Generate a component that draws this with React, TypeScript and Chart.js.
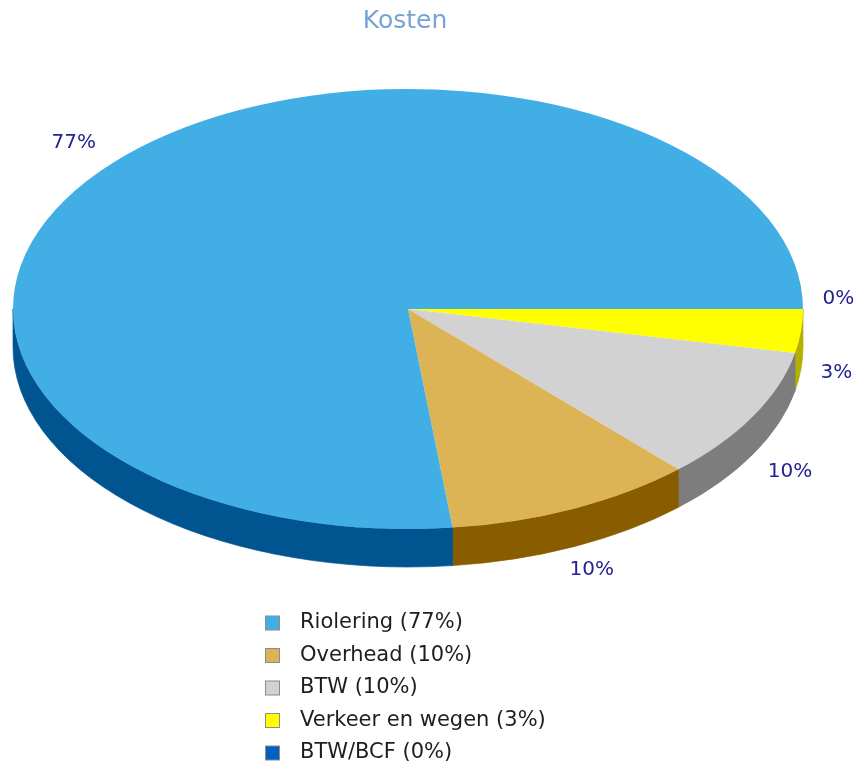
import React, { useEffect, useRef } from "react";
import { Chart, registerables } from "chart.js";

Chart.register(...registerables);

const TITLE = "Kosten";
const categories = ["Riolering", "Overhead", "BTW", "Verkeer en wegen", "BTW/BCF"];
const values = [76.8, 10.2, 9.8, 3.2, 0];
const topColors = ["#41aee6", "#dcb455", "#d2d2d2", "#ffff00", "#0060bf"];
const sideColors = ["#005591", "#8a5c00", "#7d7d7d", "#b4b000", "#003a75"];

// geometry
const W = 855;
const H = 765;
const CX = 408;
const CY = 309;
const RY = 220;
const RX = 395;
const SX = RX / RY;
const DEPTH = 38;
const FONT = "'DejaVu Sans', Verdana, sans-serif";

const total = values.reduce((a, b) => a + b, 0);
const pct = (v: number) => Math.round((v / total) * 100) + "%";

// chart draws clockwise from east; source runs counter-clockwise, so reverse
const chartLabels = [...categories].reverse();
const chartValues = [...values].reverse();
const chartTop = [...topColors].reverse();
const chartSide = [...sideColors].reverse();

const pie3d = {
  id: "pie3d",
  beforeDatasetsDraw(chart: any) {
    const ctx = chart.ctx as CanvasRenderingContext2D;
    const meta = chart.getDatasetMeta(0);
    ctx.save();
    meta.data.forEach((arc: any, i: number) => {
      const p = arc.getProps(["x", "y", "startAngle", "endAngle", "outerRadius"], true);
      const rx = p.outerRadius * SX;
      const ry = p.outerRadius;
      for (const base of [0, 2 * Math.PI]) {
        const s = Math.max(p.startAngle, base);
        const e = Math.min(p.endAngle, base + Math.PI);
        if (e <= s) continue;
        ctx.beginPath();
        ctx.ellipse(p.x, p.y, rx, ry, 0, s, e, false);
        ctx.lineTo(p.x + rx * Math.cos(e), p.y + ry * Math.sin(e) + DEPTH);
        ctx.ellipse(p.x, p.y + DEPTH, rx, ry, 0, e, s, true);
        ctx.closePath();
        ctx.fillStyle = chartSide[i];
        ctx.strokeStyle = chartSide[i];
        ctx.lineWidth = 0.7;
        ctx.fill();
        ctx.stroke();
      }
    });
    ctx.restore();
    ctx.save();
    ctx.translate(CX, 0);
    ctx.scale(SX, 1);
    ctx.translate(-CX, 0);
  },
  afterDatasetsDraw(chart: any) {
    chart.ctx.restore();
  },
  afterDraw(chart: any) {
    const ctx = chart.ctx as CanvasRenderingContext2D;
    const meta = chart.getDatasetMeta(0);
    ctx.save();
    // title
    ctx.font = `25px ${FONT}`;
    ctx.fillStyle = "#78a4d4";
    ctx.textAlign = "center";
    ctx.textBaseline = "middle";
    ctx.fillText(TITLE, CX - 3, 21);

    // slice labels
    ctx.font = `20px ${FONT}`;
    ctx.fillStyle = "#23238f";
    meta.data.forEach((arc: any, i: number) => {
      const p = arc.getProps(["x", "y", "startAngle", "endAngle", "outerRadius"], true);
      const mid = (p.startAngle + p.endAngle) / 2;
      const c = Math.cos(mid);
      const s = Math.sin(mid);
      const txt = pct(chartValues[i]);
      const w = ctx.measureText(txt).width;
      const x = p.x + (p.outerRadius * SX + 18) * c + (c < 0 ? -w / 2 - 4 : c * w * 0.55);
      const y = p.y + 235 * s + (s > 0 ? DEPTH * Math.min(1, s * 8) : 0);
      ctx.textAlign = "center";
      ctx.textBaseline = s > 0 ? "top" : "bottom";
      ctx.fillText(txt, x, y);
    });

    // legend
    ctx.font = `21px ${FONT}`;
    ctx.textAlign = "left";
    ctx.textBaseline = "middle";
    categories.forEach((cat, i) => {
      const rowY = 623 + i * 32.5;
      ctx.fillStyle = topColors[i];
      ctx.fillRect(265.5, rowY - 7, 14, 14);
      ctx.strokeStyle = "#8c8c8c";
      ctx.lineWidth = 1;
      ctx.strokeRect(265.5, rowY - 7, 14, 14);
      ctx.fillStyle = "#1e1e1e";
      ctx.fillText(`${cat} (${pct(values[i])})`, 300, rowY);
    });
    ctx.restore();
  },
};

export default function App() {
  const ref = useRef<HTMLCanvasElement | null>(null);
  useEffect(() => {
    if (!ref.current) return;
    const chart = new Chart(ref.current, {
      type: "pie",
      data: {
        labels: chartLabels,
        datasets: [
          {
            data: chartValues,
            backgroundColor: chartTop,
            borderWidth: 0,
            clip: false,
          } as any,
        ],
      },
      options: {
        responsive: false,
        animation: false,
        events: [],
        rotation: 90,
        layout: {
          padding: {
            left: CX - RY,
            right: W - (CX + RY),
            top: CY - 249,
            bottom: H - (CY + 249),
          },
        },
        plugins: {
          legend: { display: false },
          title: { display: false },
          tooltip: { enabled: false },
        },
      },
      plugins: [pie3d],
    });
    return () => chart.destroy();
  }, []);
  return (
    <div style={{ position: "absolute", left: 0, top: 0, width: W, height: H, background: "#fff" }}>
      <canvas ref={ref} width={W} height={H} style={{ display: "block" }} />
    </div>
  );
}
